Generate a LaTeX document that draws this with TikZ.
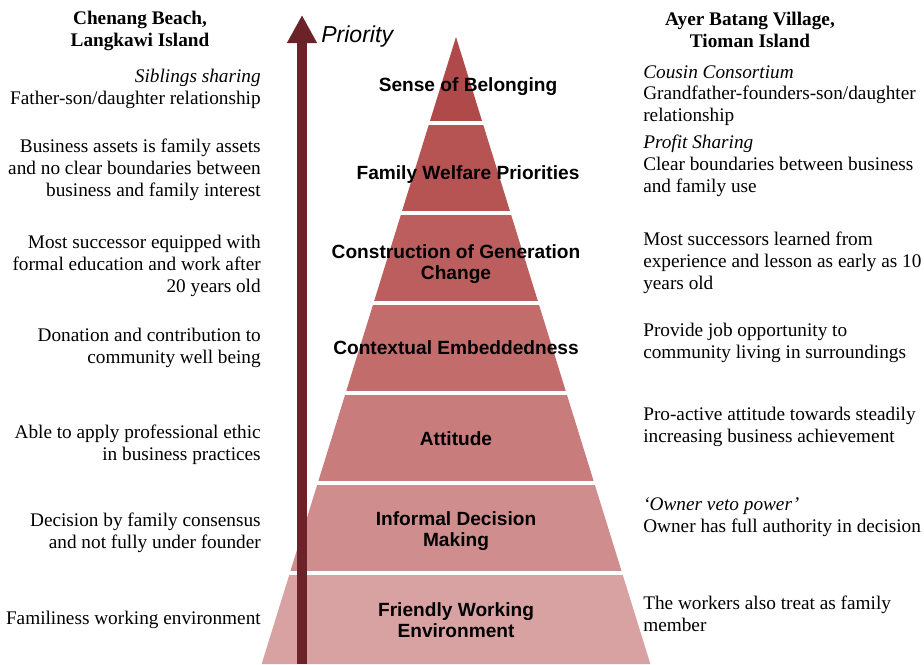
\documentclass[tikz,border=0pt]{standalone}
\usepackage{fontspec}
\setmainfont{Liberation Serif}
\setsansfont{Liberation Sans}
\usetikzlibrary{arrows.meta}

\definecolor{colLvlA}{HTML}{B04A4A}
\definecolor{colLvlB}{HTML}{B65353}
\definecolor{colLvlC}{HTML}{BC5E5E}
\definecolor{colLvlD}{HTML}{C26C6C}
\definecolor{colLvlE}{HTML}{C87C7C}
\definecolor{colLvlF}{HTML}{CF8D8D}
\definecolor{colLvlG}{HTML}{D9A2A2}
\definecolor{colArrow}{HTML}{6B2228}

\tikzset{
  %% side columns (serif)
  leftcol/.style={
    font=\fontsize{13.7}{15.6}\selectfont,
    align=right, anchor=north east, inner sep=0pt
  },
  rightcol/.style={
    font=\fontsize{13.7}{15.6}\selectfont,
    align=left, anchor=north west, inner sep=0pt
  },
  sitehead/.style={
    font=\bfseries\fontsize{13.7}{15.6}\selectfont,
    align=center, anchor=north, inner sep=0pt
  },
  %% pyramid level labels
  lvltext/.style={
    font=\sffamily\bfseries\fontsize{13.6}{15.3}\selectfont,
    align=center, anchor=north, inner sep=0pt
  },
  %% priority axis
  prioarr/.style={-{Triangle[length=20pt,width=20pt]},
                  line width=6.8pt, color=colArrow},
  lvlgap/.style={white, line width=2.2pt}
}

\begin{document}
\begin{tikzpicture}[x=0.025cm, y=-0.025cm]
\useasboundingbox (0,0) rectangle (924,664);

% ════════════════════════════════════════════════════════════
% PYRAMID
% ════════════════════════════════════════════════════════════
\coordinate (apex) at (456,37);
\foreach \ya/\yb/\col in {37/123/colLvlA, 123/213/colLvlB, 213/303/colLvlC,
                          303/393/colLvlD, 393/483/colLvlE, 483/573/colLvlF,
                          573/664/colLvlG} {
  \pgfmathsetmacro\wa{0.31*(\ya-37)}
  \pgfmathsetmacro\wb{0.31*(\yb-37)}
  \fill[\col] (456-\wa,\ya) -- (456+\wa,\ya) -- (456+\wb,\yb) -- (456-\wb,\yb) -- cycle;
}
% white separators between levels
\foreach \y in {123,213,303,393,483,573} {
  \pgfmathsetmacro\w{0.31*(\y-37)+3}
  \draw[lvlgap] (456-\w,\y) -- (456+\w,\y);
}

% level labels
\node[lvltext] (belong)   at (468,77)  {Sense of Belonging};
\node[lvltext] (welfare)  at (468,165) {Family Welfare Priorities};
\node[lvltext] (constr)   at (456,244) {Construction of Generation\\Change};
\node[lvltext] (context)  at (456,340) {Contextual Embeddedness};
\node[lvltext] (attitude) at (456,431) {Attitude};
\node[lvltext] (informal) at (456,511) {Informal Decision\\Making};
\node[lvltext] (friendly) at (456,602) {Friendly Working\\Environment};

% ════════════════════════════════════════════════════════════
% PRIORITY AXIS
% ════════════════════════════════════════════════════════════
\coordinate (axisbot) at (302,664);
\coordinate (axistop) at (302,15);
\draw[prioarr] (axisbot) -- (axistop);
\node[anchor=base west, inner sep=0pt,
      font=\sffamily\itshape\fontsize{16.4}{18}\selectfont]
     (prio) at (321,42) {Priority};

% ════════════════════════════════════════════════════════════
% LEFT COLUMN – CHENANG BEACH
% ════════════════════════════════════════════════════════════
\node[sitehead] (hleft) at (140,11) {Chenang Beach,\\Langkawi Island};

\node[leftcol] (lsib)   at (261,69)  {\textit{Siblings sharing}\\Father-son/daughter relationship};
\node[leftcol] (lasset) at (261,139) {Business assets is family assets\\and no clear boundaries between\\business and family interest};
\node[leftcol] (lsucc)  at (261,235) {Most successor equipped with\\formal education and work after\\20 years old};
\node[leftcol] (ldonat) at (261,328) {Donation and contribution to\\community well being};
\node[leftcol] (lethic) at (261,425) {Able to apply professional ethic\\in business practices};
\node[leftcol] (ldecis) at (261,513) {Decision by family consensus\\and not fully under founder};
\node[leftcol] (lfamil) at (261,611) {Familiness working environment};

% ════════════════════════════════════════════════════════════
% RIGHT COLUMN – AYER BATANG
% ════════════════════════════════════════════════════════════
\node[sitehead] (hright) at (750,12) {Ayer Batang Village,\\Tioman Island};

\node[rightcol] (rcousin) at (643,65)  {\textit{Cousin Consortium}\\Grandfather-founders-son/daughter\\relationship};
\node[rightcol] (rprofit) at (643,135) {\textit{Profit Sharing}\\Clear boundaries between business\\and family use};
\node[rightcol] (rsucc)   at (643,232) {Most successors learned from\\experience and lesson as early as 10\\years old};
\node[rightcol] (rjob)    at (643,323) {Provide job opportunity to\\community living in surroundings};
\node[rightcol] (rproact) at (643,407) {Pro-active attitude towards steadily\\increasing business achievement};
\node[rightcol] (rveto)   at (643,497) {\textit{`Owner veto power'}\\Owner has full authority in decision};
\node[rightcol] (rwork)   at (643,596) {The workers also treat as family\\member};

\end{tikzpicture}
\end{document}
